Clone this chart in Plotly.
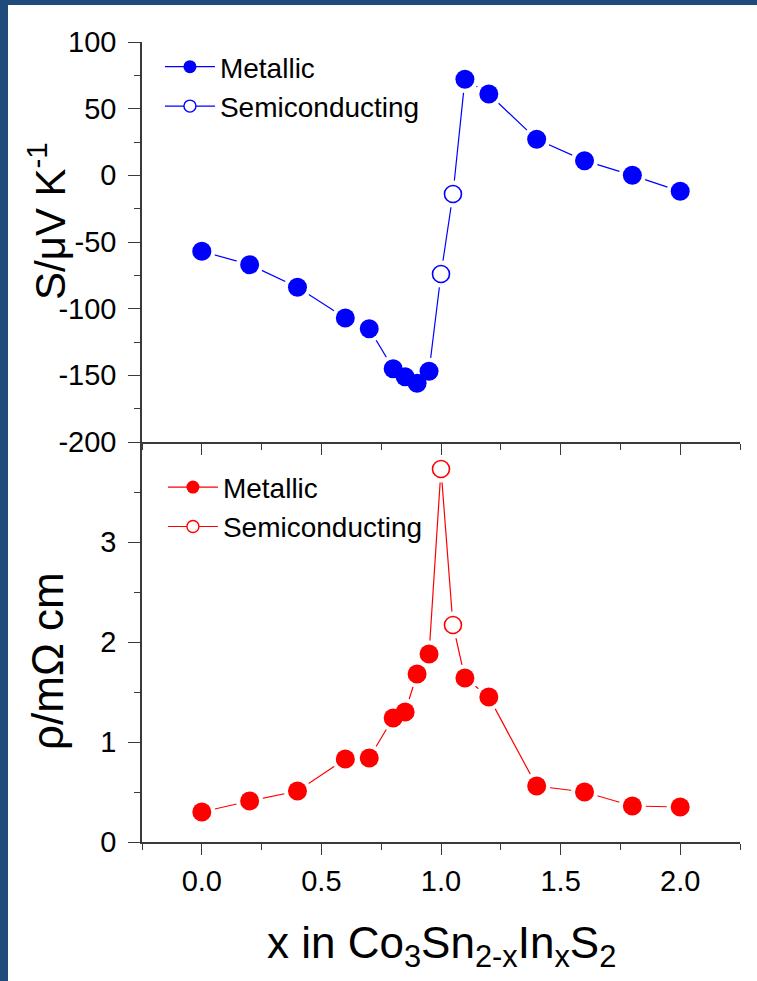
import plotly.graph_objects as go

# ---------------- data ----------------
x_vals = [0.0, 0.2, 0.4, 0.6, 0.7, 0.8, 0.85, 0.9, 0.95, 1.0, 1.05, 1.1, 1.2, 1.4, 1.6, 1.8, 2.0]
seebeck = [-57, -67, -84, -107, -115, -145, -151, -156, -147, -74, -14, 72, 61, 27, 11, 0, -12]
rho = [0.30, 0.41, 0.51, 0.83, 0.84, 1.24, 1.30, 1.68, 1.88, 3.73, 2.17, 1.64, 1.45, 0.56, 0.50, 0.36, 0.35]
phase = ["M"] * 9 + ["S", "S"] + ["M"] * 6

x_ticks = [0.0, 0.5, 1.0, 1.5, 2.0]
s_ticks = [-200, -150, -100, -50, 0, 50, 100]
r_ticks = [0, 1, 2, 3]

BLUE = "#0000FF"
RED = "#FF0000"
FRAME = "#1F4A7C"
AX = "#3a3a3a"
FONT = "Liberation Sans, Arial, sans-serif"

def split(vals, tag):
    xs = [x for x, p in zip(x_vals, phase) if p == tag]
    ys = [v for v, p in zip(vals, phase) if p == tag]
    return xs, ys

fig = go.Figure()

def add_panel(vals, color, xa, ya, leg):
    fig.add_trace(go.Scatter(x=x_vals, y=vals, mode="lines", line=dict(color=color, width=1.2),
                             xaxis=xa, yaxis=ya, showlegend=False, hoverinfo="skip"))
    fig.add_trace(go.Scatter(x=x_vals, y=vals, mode="markers",
                             marker=dict(size=27, color="white", line=dict(width=0)),
                             xaxis=xa, yaxis=ya, showlegend=False, hoverinfo="skip"))
    mx, my = split(vals, "M")
    sx, sy = split(vals, "S")
    fig.add_trace(go.Scatter(x=mx, y=my, mode="markers",
                             marker=dict(size=19, color=color, line=dict(width=0)),
                             xaxis=xa, yaxis=ya, showlegend=False))
    fig.add_trace(go.Scatter(x=sx, y=sy, mode="markers",
                             marker=dict(size=17, color="white", line=dict(width=1.6, color=color)),
                             xaxis=xa, yaxis=ya, showlegend=False))
    # legend entries
    fig.add_trace(go.Scatter(x=[None], y=[None], mode="lines+markers", name="Metallic",
                             line=dict(color=color, width=1.2),
                             marker=dict(size=13, color=color, line=dict(width=0)),
                             xaxis=xa, yaxis=ya, legend=leg))
    fig.add_trace(go.Scatter(x=[None], y=[None], mode="lines+markers", name="Semiconducting",
                             line=dict(color=color, width=1.2),
                             marker=dict(size=12, color="white", line=dict(width=1.4, color=color)),
                             xaxis=xa, yaxis=ya, legend=leg))

add_panel(seebeck, BLUE, "x2", "y2", "legend")
add_panel(rho, RED, "x", "y", "legend2")

tickfont = dict(family=FONT, size=29, color="black")

fig.update_layout(
    width=757, height=981, autosize=False,
    margin=dict(l=142, r=17, t=42, b=139),
    paper_bgcolor="white", plot_bgcolor="white",
    font=dict(family=FONT, color="black"),
    xaxis=dict(domain=[0, 1], anchor="y", range=[-0.25, 2.25],
               tickmode="array", tickvals=x_ticks, ticktext=[f"{v:.1f}" for v in x_ticks],
               ticks="outside", ticklen=11, tickwidth=1.3, tickcolor=AX,
               minor=dict(tickmode="linear", tick0=0, dtick=0.25, ticks="outside", ticklen=6,
                          tickwidth=1.3, tickcolor=AX),
               showline=True, linecolor=AX, linewidth=1.5, showgrid=False, zeroline=False,
               tickfont=tickfont, ticklabelstandoff=1),
    yaxis=dict(domain=[0, 0.5], anchor="x", range=[0, 4],
               tickmode="array", tickvals=r_ticks, ticktext=[str(v) for v in r_ticks],
               ticks="outside", ticklen=12, tickwidth=1.3, tickcolor=AX,
               minor=dict(tickmode="array", tickvals=[0.5, 1.5, 2.5, 3.5], ticks="outside",
                          ticklen=6, tickwidth=1.3, tickcolor=AX),
               showline=True, linecolor=AX, linewidth=1.5, showgrid=False, zeroline=False,
               tickfont=tickfont, ticklabelstandoff=6),
    xaxis2=dict(domain=[0, 1], anchor="y2", matches="x", range=[-0.25, 2.25],
                tickmode="array", tickvals=x_ticks, showticklabels=False,
                ticks="outside", ticklen=11, tickwidth=1.3, tickcolor=AX,
                minor=dict(tickmode="linear", tick0=0, dtick=0.25, ticks="outside", ticklen=6,
                           tickwidth=1.3, tickcolor=AX),
                showline=True, linecolor=AX, linewidth=1.5, showgrid=False, zeroline=False),
    yaxis2=dict(domain=[0.5, 1], anchor="x2", range=[-200, 100],
                tickmode="array", tickvals=s_ticks, ticktext=[str(v) for v in s_ticks],
                ticks="outside", ticklen=12, tickwidth=1.3, tickcolor=AX,
                minor=dict(tickmode="linear", tick0=0, dtick=25, ticks="outside",
                           ticklen=6, tickwidth=1.3, tickcolor=AX),
                showline=True, linecolor=AX, linewidth=1.5, showgrid=False, zeroline=False,
                tickfont=tickfont, ticklabelstandoff=6),
    # mirrored frame axes with inward ticks
    xaxis3=dict(overlaying="x", anchor="y2", side="top", range=[-0.25, 2.25],
                tickmode="linear", tick0=0, dtick=0.25, ticks="inside", ticklen=5,
                tickwidth=1.3, tickcolor=AX, showticklabels=False,
                showline=True, linecolor="#222222", linewidth=1.5, showgrid=False, zeroline=False),
    yaxis3=dict(overlaying="y2", anchor="x", side="right", range=[-200, 100],
                tickmode="linear", tick0=0, dtick=25, ticks="inside", ticklen=4,
                tickwidth=1.3, tickcolor=AX, showticklabels=False,
                showline=True, linecolor="#555555", linewidth=2, showgrid=False, zeroline=False),
    yaxis4=dict(overlaying="y", anchor="x", side="right", range=[0, 4],
                tickmode="linear", tick0=0, dtick=0.5, ticks="inside", ticklen=4,
                tickwidth=1.3, tickcolor=AX, showticklabels=False,
                showline=True, linecolor="#555555", linewidth=2, showgrid=False, zeroline=False),
    xaxis4=dict(overlaying="x", anchor="y", side="top", range=[-0.25, 2.25],
                tickmode="linear", tick0=0, dtick=0.5, ticks="inside", ticklen=10,
                tickwidth=1.3, tickcolor=AX, showticklabels=False,
                minor=dict(tickmode="linear", tick0=0, dtick=0.25, ticks="inside", ticklen=6,
                           tickwidth=1.3, tickcolor=AX),
                showline=False, showgrid=False, zeroline=False),
    legend=dict(x=0.030, y=1.0, xanchor="left", yanchor="top", itemwidth=50,
                font=dict(family=FONT, size=28, color="black"),
                bgcolor="rgba(0,0,0,0)", borderwidth=0, tracegroupgap=0),
    legend2=dict(x=0.035, y=0.4745, xanchor="left", yanchor="top", itemwidth=50,
                 font=dict(family=FONT, size=28, color="black"),
                 bgcolor="rgba(0,0,0,0)", borderwidth=0, tracegroupgap=0),
    showlegend=True,
)

# axis titles
fig.add_annotation(text="S/\u03bcV K<sup>-1</sup>", textangle=-90, xref="paper", yref="paper",
                   x=(47 - 142) / 598, y=(842 - 221) / 800, xanchor="center", yanchor="middle",
                   showarrow=False, font=dict(family=FONT, size=42, color="black"))
fig.add_annotation(text="\u03c1/m\u03a9 cm", textangle=-90, xref="paper", yref="paper",
                   x=(47 - 142) / 598, y=(842 - 661) / 800, xanchor="center", yanchor="middle",
                   showarrow=False, font=dict(family=FONT, size=44, color="black"))
fig.add_annotation(text="x in Co<sub>3</sub>Sn<sub>2-x</sub>In<sub>x</sub>S<sub>2</sub>",
                   xref="paper", yref="paper", x=(441 - 142) / 598, y=(842 - 946) / 800,
                   xanchor="center", yanchor="middle", showarrow=False,
                   font=dict(family=FONT, size=44, color="black"))

# dark frame strips (left and top)
fig.add_shape(type="rect", xref="paper", yref="paper", layer="above",
              x0=-150 / 598, x1=(8 - 142) / 598, y0=(842 - 990) / 800, y1=850 / 800,
              fillcolor=FRAME, line=dict(width=0))
fig.add_shape(type="rect", xref="paper", yref="paper", layer="above",
              x0=-150 / 598, x1=(765 - 142) / 598, y0=(842 - 5) / 800, y1=850 / 800,
              fillcolor=FRAME, line=dict(width=0))

fig.write_html("out.html", config={"displayModeBar": False},
               post_script="document.body.style.margin='0';document.body.style.overflow='hidden';")
